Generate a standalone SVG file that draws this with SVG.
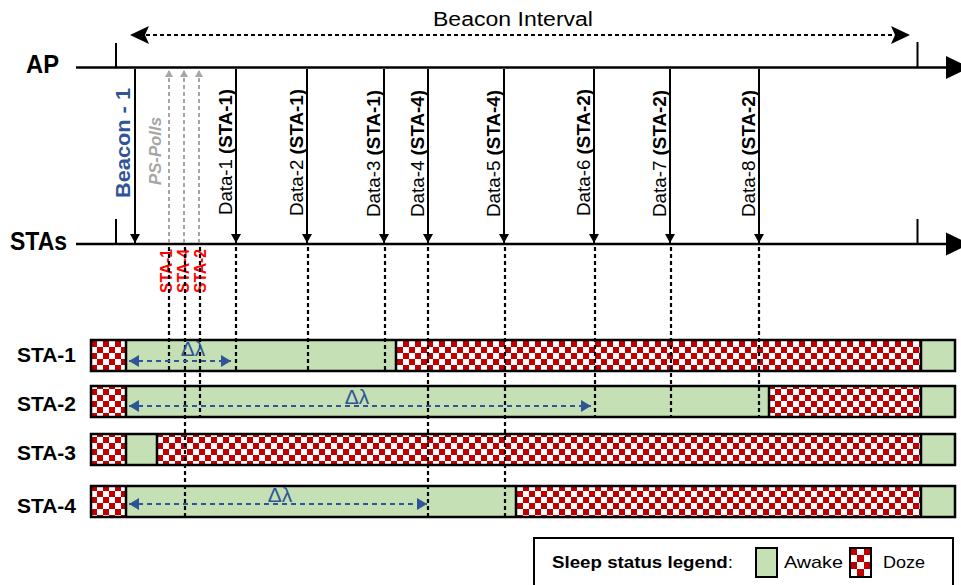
<svg xmlns="http://www.w3.org/2000/svg" width="961" height="585" viewBox="0 0 961 585">
<style>
text{font-family:"Liberation Sans",Arial,sans-serif;fill:#000}
.axis{stroke:#000;stroke-width:2.5;fill:none}
.tick{stroke:#000;stroke-width:2;fill:none}
.data{stroke:#000;stroke-width:2;fill:none;marker-end:url(#ah)}
.poll{stroke:#A6A6A6;stroke-width:2;stroke-dasharray:4 3;fill:none;marker-end:url(#ahg)}
.dot{stroke:#000;stroke-width:2.2;stroke-dasharray:4 3;fill:none}
.dl{stroke:#2F5597;stroke-width:2;stroke-dasharray:5 4;fill:none;marker-start:url(#ahbS);marker-end:url(#ahb)}
.bi{stroke:#000;stroke-width:2;stroke-dasharray:4 3;fill:none}
.awake{fill:#C5E0B4}
.doze{fill:url(#chk)}
.sep{stroke:#000;stroke-width:2.5}
.frame{fill:none;stroke:#000;stroke-width:2.5}
.dlab{font-size:18.5px}
.lbl{font-size:21px;font-weight:bold}
.red{font-size:16px;font-weight:bold;fill:#FF0000}
.lam{font-size:21px;fill:#2F5597}
</style>
<defs>
<pattern id="chk" width="12" height="12" patternUnits="userSpaceOnUse" x="91" y="341">
<rect width="12" height="12" fill="#fff"/>
<rect width="6" height="6" fill="#C00000"/>
<rect x="6" y="6" width="6" height="6" fill="#C00000"/>
</pattern>
<pattern id="chk2" width="14" height="14" patternUnits="userSpaceOnUse" x="850" y="548">
<rect width="14" height="14" fill="#fff"/>
<rect width="7" height="7" fill="#C00000"/>
<rect x="7" y="7" width="7" height="7" fill="#C00000"/>
</pattern>
<marker id="ah" markerWidth="9" markerHeight="10" refX="9" refY="5" orient="auto" markerUnits="userSpaceOnUse">
<path d="M0,0 L9,5 L0,10 z" fill="#000"/>
</marker>
<marker id="ahg" markerWidth="7" markerHeight="8" refX="7" refY="4" orient="auto" markerUnits="userSpaceOnUse">
<path d="M0,0 L7,4 L0,8 z" fill="#A6A6A6"/>
</marker>
<marker id="ahb" markerWidth="10" markerHeight="12" refX="10" refY="6" orient="auto" markerUnits="userSpaceOnUse">
<path d="M0,0 L10,6 L0,12 z" fill="#2F5597"/>
</marker>
<marker id="ahbS" markerWidth="10" markerHeight="12" refX="0" refY="6" orient="auto" markerUnits="userSpaceOnUse">
<path d="M10,0 L0,6 L10,12 z" fill="#2F5597"/>
</marker>
</defs>

<g id="beacon-interval">
<line class="bi" x1="146" y1="35" x2="894" y2="35"/>
<path d="M130,35 L149,26 L145,35 L149,44 z" fill="#000"/>
<path d="M910,35 L891,26 L895,35 L891,44 z" fill="#000"/>
<text x="513" y="26" text-anchor="middle" font-size="19.5" textLength="160" lengthAdjust="spacingAndGlyphs">Beacon Interval</text>
</g>

<g id="ap-axis">
<line class="axis" x1="76" y1="67.5" x2="948" y2="67.5"/>
<polygon points="946,56 970,67.5 946,79" fill="#000"/>
<line class="tick" x1="116" y1="43" x2="116" y2="67"/>
<line class="tick" x1="917.5" y1="42" x2="917.5" y2="67"/>
<text x="26" y="73" font-size="26" font-weight="bold" textLength="33" lengthAdjust="spacingAndGlyphs">AP</text>
</g>

<g id="sta-axis">
<line class="axis" x1="76" y1="244" x2="948" y2="244"/>
<polygon points="946,232.5 970,244 946,255.5" fill="#000"/>
<line class="tick" x1="116" y1="219" x2="116" y2="244"/>
<line class="tick" x1="917.5" y1="219" x2="917.5" y2="244"/>
<text x="10" y="250" font-size="26" font-weight="bold" textLength="57" lengthAdjust="spacingAndGlyphs">STAs</text>
</g>

<g id="connectors">
<line class="data" x1="135" y1="69" x2="135" y2="243"/>
<line class="poll" x1="169" y1="243" x2="169" y2="70"/>
<line class="poll" x1="184" y1="243" x2="184" y2="70"/>
<line class="poll" x1="199" y1="243" x2="199" y2="70"/>
<line class="data" x1="236" y1="69" x2="236" y2="243"/>
<line class="data" x1="307" y1="69" x2="307" y2="243"/>
<line class="data" x1="384" y1="69" x2="384" y2="243"/>
<line class="data" x1="428" y1="69" x2="428" y2="243"/>
<line class="data" x1="504" y1="69" x2="504" y2="243"/>
<line class="data" x1="594" y1="69" x2="594" y2="243"/>
<line class="data" x1="670" y1="69" x2="670" y2="243"/>
<line class="data" x1="759" y1="69" x2="759" y2="243"/>
</g>

<g id="frame-labels">
<text class="lbl" transform="translate(130,198) rotate(-90)" style="fill:#2F5597" textLength="110" lengthAdjust="spacingAndGlyphs">Beacon - 1</text>
<text transform="translate(161,185) rotate(-90)" font-size="16" font-weight="bold" font-style="italic" style="fill:#A6A6A6" textLength="68" lengthAdjust="spacingAndGlyphs">PS-Polls</text>
<text class="dlab" transform="translate(232,215) rotate(-90)" textLength="126" lengthAdjust="spacingAndGlyphs">Data-1 <tspan font-weight="bold">(STA-1)</tspan></text>
<text class="dlab" transform="translate(303,216) rotate(-90)" textLength="127" lengthAdjust="spacingAndGlyphs">Data-2 <tspan font-weight="bold">(STA-1)</tspan></text>
<text class="dlab" transform="translate(380,217) rotate(-90)" textLength="127" lengthAdjust="spacingAndGlyphs">Data-3 <tspan font-weight="bold">(STA-1)</tspan></text>
<text class="dlab" transform="translate(424,217) rotate(-90)" textLength="127" lengthAdjust="spacingAndGlyphs">Data-4 <tspan font-weight="bold">(STA-4)</tspan></text>
<text class="dlab" transform="translate(500,217) rotate(-90)" textLength="127" lengthAdjust="spacingAndGlyphs">Data-5 <tspan font-weight="bold">(STA-4)</tspan></text>
<text class="dlab" transform="translate(590,216) rotate(-90)" textLength="127" lengthAdjust="spacingAndGlyphs">Data-6 <tspan font-weight="bold">(STA-2)</tspan></text>
<text class="dlab" transform="translate(666,217) rotate(-90)" textLength="127" lengthAdjust="spacingAndGlyphs">Data-7 <tspan font-weight="bold">(STA-2)</tspan></text>
<text class="dlab" transform="translate(755,217) rotate(-90)" textLength="127" lengthAdjust="spacingAndGlyphs">Data-8 <tspan font-weight="bold">(STA-2)</tspan></text>
<text class="red" transform="translate(172,293) rotate(-90)" textLength="44" lengthAdjust="spacingAndGlyphs">STA-1</text>
<text class="red" transform="translate(189,293) rotate(-90)" textLength="44" lengthAdjust="spacingAndGlyphs">STA-4</text>
<text class="red" transform="translate(206,293) rotate(-90)" textLength="44" lengthAdjust="spacingAndGlyphs">STA-2</text>
</g>

<g id="sta-1">
<rect class="doze" x="91" y="340" width="35" height="31"/>
<rect class="awake" x="126" y="340" width="270" height="31"/>
<rect class="doze" x="396" y="340" width="525" height="31"/>
<rect class="awake" x="921" y="340" width="34" height="31"/>
<line class="sep" x1="126" y1="340" x2="126" y2="371"/>
<line class="sep" x1="396" y1="340" x2="396" y2="371"/>
<line class="sep" x1="921" y1="340" x2="921" y2="371"/>
<rect class="frame" x="91" y="340" width="864" height="31"/>
<text class="lbl" x="17" y="362" textLength="59" lengthAdjust="spacingAndGlyphs">STA-1</text>
</g>
<g id="sta-2">
<rect class="doze" x="91" y="386" width="35" height="31"/>
<rect class="awake" x="126" y="386" width="643" height="31"/>
<rect class="doze" x="769" y="386" width="152" height="31"/>
<rect class="awake" x="921" y="386" width="34" height="31"/>
<line class="sep" x1="126" y1="386" x2="126" y2="417"/>
<line class="sep" x1="769" y1="386" x2="769" y2="417"/>
<line class="sep" x1="921" y1="386" x2="921" y2="417"/>
<rect class="frame" x="91" y="386" width="864" height="31"/>
<text class="lbl" x="17" y="411" textLength="59" lengthAdjust="spacingAndGlyphs">STA-2</text>
</g>
<g id="sta-3">
<rect class="doze" x="91" y="434" width="35" height="31"/>
<rect class="awake" x="126" y="434" width="31" height="31"/>
<rect class="doze" x="157" y="434" width="764" height="31"/>
<rect class="awake" x="921" y="434" width="34" height="31"/>
<line class="sep" x1="126" y1="434" x2="126" y2="465"/>
<line class="sep" x1="157" y1="434" x2="157" y2="465"/>
<line class="sep" x1="921" y1="434" x2="921" y2="465"/>
<rect class="frame" x="91" y="434" width="864" height="31"/>
<text class="lbl" x="17" y="460" textLength="59" lengthAdjust="spacingAndGlyphs">STA-3</text>
</g>
<g id="sta-4">
<rect class="doze" x="91" y="486" width="35" height="31"/>
<rect class="awake" x="126" y="486" width="390" height="31"/>
<rect class="doze" x="516" y="486" width="405" height="31"/>
<rect class="awake" x="921" y="486" width="34" height="31"/>
<line class="sep" x1="126" y1="486" x2="126" y2="517"/>
<line class="sep" x1="516" y1="486" x2="516" y2="517"/>
<line class="sep" x1="921" y1="486" x2="921" y2="517"/>
<rect class="frame" x="91" y="486" width="864" height="31"/>
<text class="lbl" x="17" y="513" textLength="59" lengthAdjust="spacingAndGlyphs">STA-4</text>
</g>

<g id="timing-lines">
<line class="dot" x1="169" y1="247" x2="169" y2="371"/>
<line class="dot" x1="185" y1="247" x2="185" y2="517"/>
<line class="dot" x1="200" y1="247" x2="200" y2="417"/>
<line class="dot" x1="236" y1="247" x2="236" y2="371"/>
<line class="dot" x1="308" y1="247" x2="308" y2="371"/>
<line class="dot" x1="385" y1="247" x2="385" y2="371"/>
<line class="dot" x1="428" y1="247" x2="428" y2="517"/>
<line class="dot" x1="505" y1="247" x2="505" y2="517"/>
<line class="dot" x1="595" y1="247" x2="595" y2="417"/>
<line class="dot" x1="671" y1="247" x2="671" y2="417"/>
<line class="dot" x1="759" y1="247" x2="759" y2="417"/>
</g>

<g id="delta-lambda">
<line class="dl" x1="129" y1="361" x2="231" y2="361"/>
<text class="lam" x="193" y="356" text-anchor="middle">Δλ</text>
<line class="dl" x1="129" y1="406" x2="591" y2="406"/>
<text class="lam" x="357" y="404" text-anchor="middle">Δλ</text>
<line class="dl" x1="129" y1="504" x2="427" y2="504"/>
<text class="lam" x="280" y="502" text-anchor="middle">Δλ</text>
</g>

<g id="legend">
<rect x="534" y="538" width="419" height="52" fill="#fff" stroke="#000" stroke-width="2"/>
<text x="552" y="568" font-size="17" textLength="181" lengthAdjust="spacingAndGlyphs"><tspan font-weight="bold">Sleep status legend</tspan>:</text>
<rect x="756" y="548" width="21" height="29" fill="#C5E0B4" stroke="#000" stroke-width="2"/>
<text x="784" y="568" font-size="17" textLength="59" lengthAdjust="spacingAndGlyphs">Awake</text>
<rect x="850" y="548" width="21" height="29" fill="url(#chk2)" stroke="#000" stroke-width="2"/>
<text x="883" y="568" font-size="17" textLength="42" lengthAdjust="spacingAndGlyphs">Doze</text>
</g>
</svg>
